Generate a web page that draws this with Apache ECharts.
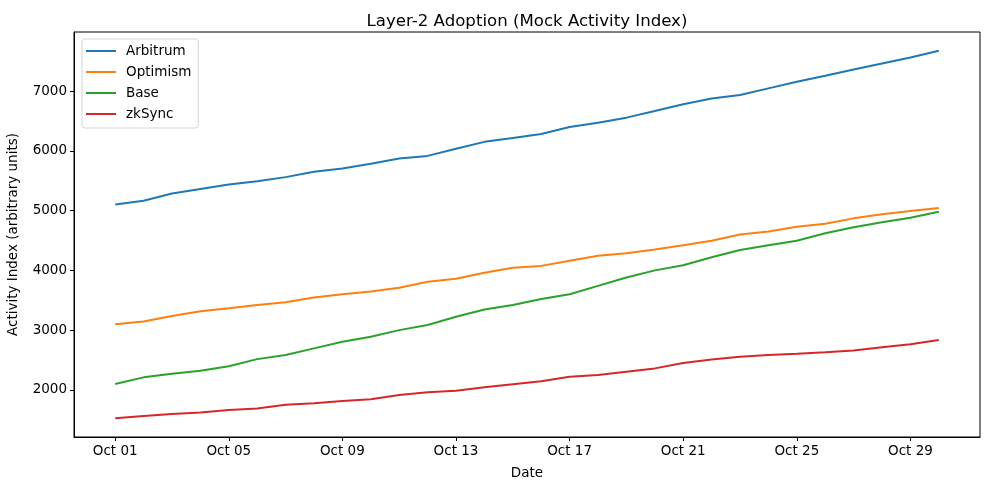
<!DOCTYPE html>
<html>
<head>
<meta charset="utf-8">
<script src="https://cdn.jsdelivr.net/npm/echarts@6/dist/echarts.min.js"></script>
<style>
html,body{margin:0;padding:0;background:#fff;}
#c{width:989px;height:490px;}
</style>
</head>
<body>
<div id="c"></div>
<script>
const dates = ["Oct 01","Oct 02","Oct 03","Oct 04","Oct 05","Oct 06","Oct 07","Oct 08","Oct 09","Oct 10",
  "Oct 11","Oct 12","Oct 13","Oct 14","Oct 15","Oct 16","Oct 17","Oct 18","Oct 19","Oct 20",
  "Oct 21","Oct 22","Oct 23","Oct 24","Oct 25","Oct 26","Oct 27","Oct 28","Oct 29","Oct 30"];
const arbitrum = [5100,5165,5285,5360,5435,5490,5560,5650,5705,5785,5870,5915,6035,6150,6215,6280,6400,6470,6555,6665,6780,6875,6935,7045,7155,7255,7360,7460,7560,7675];
const optimism = [3100,3145,3235,3315,3365,3420,3465,3545,3600,3645,3710,3810,3860,3960,4045,4075,4160,4245,4285,4350,4420,4495,4600,4650,4730,4780,4870,4940,4995,5045];
const base = [2100,2210,2270,2320,2395,2515,2585,2695,2805,2890,3000,3085,3225,3345,3420,3520,3600,3740,3880,4000,4085,4220,4340,4420,4495,4620,4720,4805,4880,4980];
const zksync = [1525,1565,1595,1620,1665,1690,1750,1775,1815,1845,1915,1960,1985,2045,2095,2145,2220,2250,2305,2360,2450,2510,2555,2585,2605,2630,2660,2715,2765,2835];
const seriesNames = ["Arbitrum","Optimism","Base","zkSync"];
const colors = ["#1f77b4","#ff7f0e","#2ca02c","#d62728"];
const xTickIdx = [0,4,8,12,16,20,24,28];
const yTicks = [2000,3000,4000,5000,6000,7000];

const font = "DejaVu Sans";
const allSeries = [arbitrum, optimism, base, zksync];
const chart = echarts.init(document.getElementById('c'), null, {renderer:'canvas'});
chart.setOption({
  animation:false,
  backgroundColor:'#ffffff',
  title:{text:'Layer-2 Adoption (Mock Activity Index)', left:522, top:8, textAlign:'center',
    textStyle:{fontFamily:font, fontSize:16.6, fontWeight:'normal', color:'#000'}},
  legend:{
    orient:'vertical', left:82, top:39,
    data:seriesNames.map((n,i)=>({name:n, icon:'rect', itemStyle:{color:colors[i]}})),
    itemWidth:30, itemHeight:2, itemGap:7,
    padding:[5,7,7,4],
    borderColor:'#d5d5d5', borderWidth:1, borderRadius:3,
    backgroundColor:'rgba(255,255,255,0.8)',
    textStyle:{fontFamily:font, fontSize:13.5, color:'#000', lineHeight:14, padding:[0,0,0,5]}
  },
  grid:{left:74, right:9, top:32, bottom:53, containLabel:false, outerBoundsMode:'none',
    show:true, borderColor:'#000', borderWidth:1},
  xAxis:{
    type:'value', min:-1.45, max:30.45,
    name:'Date', nameLocation:'middle', nameGap:29,
    nameTextStyle:{fontFamily:font, fontSize:13.5, color:'#000'},
    axisLine:{show:true, onZero:false, lineStyle:{color:'#000', width:1}},
    axisTick:{show:true, length:4, lineStyle:{color:'#000'}, customValues:xTickIdx},
    axisLabel:{fontFamily:font, fontSize:13.5, color:'#000', margin:7,
      customValues:xTickIdx, formatter:(v)=>dates[Math.round(v)]},
    splitLine:{show:false}
  },
  yAxis:{
    type:'value', min:1212, max:7988,
    name:'Activity Index (arbitrary units)', nameLocation:'middle', nameGap:54, nameRotate:90,
    nameTextStyle:{fontFamily:font, fontSize:13.5, color:'#000'},
    axisLine:{show:true, onZero:false, lineStyle:{color:'#000', width:1}},
    axisTick:{show:true, length:4, lineStyle:{color:'#000'}, customValues:yTicks},
    axisLabel:{fontFamily:font, fontSize:13.5, color:'#000', margin:7, customValues:yTicks,
      formatter:(v)=>String(v)},
    splitLine:{show:false}
  },
  series: allSeries.map((arr,i)=>({
    name:seriesNames[i], type:'line', showSymbol:false, symbol:'none',
    data:arr.map((v,j)=>[j,v]),
    lineStyle:{color:colors[i], width:2}, itemStyle:{color:colors[i]},
    z:2+i
  }))
});
</script>
</body>
</html>
